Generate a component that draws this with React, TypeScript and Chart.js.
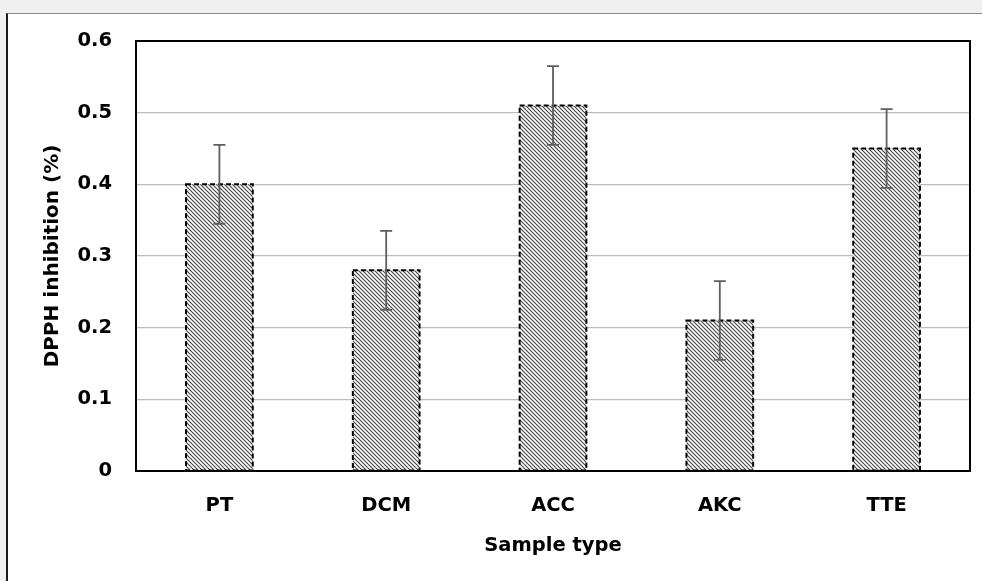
import React, { useEffect, useRef } from 'react';
import { Chart, registerables } from 'chart.js';

Chart.register(...registerables);

const categories: string[] = ['PT', 'DCM', 'ACC', 'AKC', 'TTE'];
const values: number[] = [0.40, 0.28, 0.51, 0.21, 0.45];
const errors: number[] = [0.055, 0.055, 0.055, 0.055, 0.055];
const yTicks: number[] = [0, 0.1, 0.2, 0.3, 0.4, 0.5, 0.6];
const xTitle = 'Sample type';
const yTitle = 'DPPH inhibition (%)';

const FONT = "'DejaVu Sans', sans-serif";

function makePattern(ctx: CanvasRenderingContext2D): CanvasPattern | string {
  const c = document.createElement('canvas');
  c.width = 4;
  c.height = 4;
  const p = c.getContext('2d');
  if (!p) return '#999';
  p.fillStyle = '#ffffff';
  p.fillRect(0, 0, 4, 4);
  p.strokeStyle = '#444444';
  p.lineWidth = 1.1;
  p.beginPath();
  p.moveTo(-1, -1);
  p.lineTo(5, 5);
  p.moveTo(-1, 3);
  p.lineTo(1, 5);
  p.moveTo(3, -1);
  p.lineTo(5, 1);
  p.stroke();
  return ctx.createPattern(c, 'repeat') || '#999';
}

const overlayPlugin = {
  id: 'overlay',
  afterDatasetsDraw(chart: any) {
    const ctx: CanvasRenderingContext2D = chart.ctx;
    const meta = chart.getDatasetMeta(0);
    const yScale = chart.scales.y;
    ctx.save();
    // dashed bar borders
    meta.data.forEach((bar: any) => {
      const { x, y, base, width } = bar.getProps(['x', 'y', 'base', 'width'], true);
      ctx.setLineDash([5, 3]);
      ctx.lineWidth = 2;
      ctx.strokeStyle = '#000000';
      ctx.strokeRect(x - width / 2, y, width, base - y);
    });
    ctx.setLineDash([]);
    // error bars
    ctx.strokeStyle = '#5e5e5e';
    ctx.lineWidth = 1.8;
    values.forEach((v, i) => {
      const x = meta.data[i].x;
      const yt = yScale.getPixelForValue(v + errors[i]);
      const yb = yScale.getPixelForValue(v - errors[i]);
      ctx.beginPath();
      ctx.moveTo(x, yt);
      ctx.lineTo(x, yb);
      ctx.moveTo(x - 6, yt);
      ctx.lineTo(x + 6, yt);
      ctx.moveTo(x - 6, yb);
      ctx.lineTo(x + 6, yb);
      ctx.stroke();
    });
    // plot frame
    const a = chart.chartArea;
    ctx.strokeStyle = '#000000';
    ctx.lineWidth = 2;
    ctx.strokeRect(a.left, a.top, a.right - a.left, a.bottom - a.top);
    ctx.restore();
  },
};

export default function App() {
  const ref = useRef<HTMLCanvasElement | null>(null);

  useEffect(() => {
    const canvas = ref.current;
    if (!canvas) return;
    const ctx = canvas.getContext('2d');
    if (!ctx) return;
    const pattern = makePattern(ctx);
    const chart = new Chart(ctx, {
      type: 'bar',
      data: {
        labels: categories,
        datasets: [
          {
            data: values,
            backgroundColor: pattern as any,
            borderWidth: 0,
            categoryPercentage: 1,
            barPercentage: 0.4,
          },
        ],
      },
      options: {
        animation: false,
        responsive: false,
        devicePixelRatio: 1,
        layout: { padding: { top: 41, right: 12, left: 0, bottom: 0 } },
        plugins: {
          legend: { display: false },
          tooltip: { enabled: false },
        },
        scales: {
          x: {
            grid: { display: false, drawTicks: false },
            border: { display: false },
            ticks: {
              padding: 23,
              color: '#000',
              font: { family: FONT, size: 19.5, weight: 'bold' },
            },
            title: {
              display: true,
              text: xTitle,
              color: '#000',
              font: { family: FONT, size: 19.5, weight: 'bold' },
              padding: { top: 0, bottom: 23 },
            },
            afterFit: (scale: any) => {
              scale.height = 110;
            },
          },
          y: {
            min: 0,
            max: 0.6,
            grid: { color: '#bcbcbc', lineWidth: 1.2, drawTicks: false },
            border: { display: false },
            afterBuildTicks: (scale: any) => {
              scale.ticks = yTicks.map((v) => ({ value: v }));
            },
            ticks: {
              padding: 24,
              color: '#000',
              font: { family: FONT, size: 19.5, weight: 'bold' },
              callback: (v: any) => (Number(v) === 0 ? '0' : Number(v).toFixed(1)),
            },
            title: {
              display: true,
              text: yTitle,
              color: '#000',
              font: { family: FONT, size: 20, weight: 'bold' },
              padding: { top: 41, bottom: 0 },
            },
            afterFit: (scale: any) => {
              scale.width = 136;
            },
          },
        },
      },
      plugins: [overlayPlugin],
    });
    return () => chart.destroy();
  }, []);

  return (
    <div style={{ position: 'fixed', left: 0, top: 0, width: 982, height: 581, background: '#f0f0f0', overflow: 'hidden' }}>
      <div
        style={{
          position: 'absolute',
          left: 6,
          top: 13,
          width: 982,
          height: 600,
          background: '#ffffff',
          borderLeft: '2px solid #1a1a1a',
          borderTop: '1px solid #8a8a8a',
          boxSizing: 'border-box',
        }}
      />
      <canvas ref={ref} width={982} height={581} style={{ position: 'absolute', left: 0, top: 0, width: 982, height: 581 }} />
    </div>
  );
}
